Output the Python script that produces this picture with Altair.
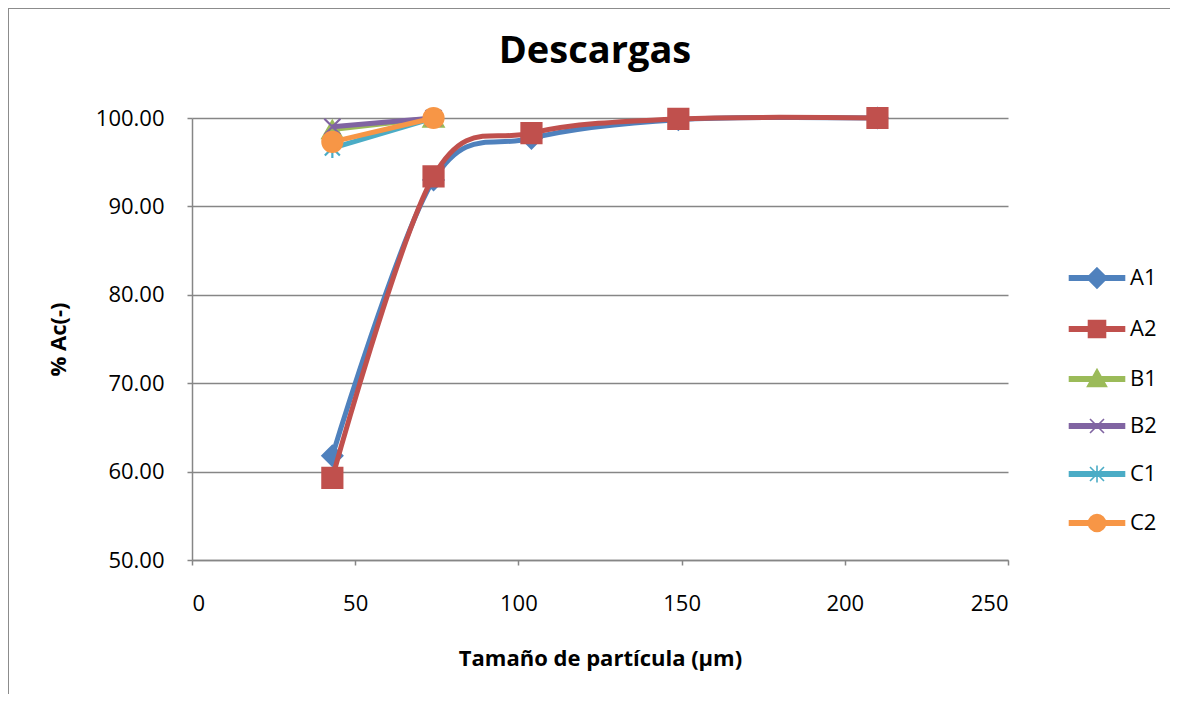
import altair as alt
import pandas as pd

# ---------------- data ----------------
series = ["A1", "A2", "B1", "B2", "C1", "C2"]
x_A = [43, 74, 104, 149, 210]
a1 = [61.8, 93.0, 97.7, 99.8, 100.0]
a2 = [59.3, 93.4, 98.3, 99.9, 100.0]
x_BC = [43, 74]
b1 = [98.7, 100.0]
b2 = [99.0, 100.0]
c1 = [96.6, 100.0]
c2 = [97.3, 100.0]
x_ticks = [0, 50, 100, 150, 200, 250]
y_ticks = [50, 60, 70, 80, 90, 100]

# ---------------- styles ----------------
colors = ["#4F81BD", "#C0504D", "#9BBB59", "#8064A2", "#4BACC6", "#F79646"]
X_PATH = "M-0.8,-0.8L0.8,0.8M-0.8,0.8L0.8,-0.8"
STAR_PATH = "M-0.75,-0.75L0.75,0.75M-0.75,0.75L0.75,-0.75M0,-1V1"
markers = ["diamond", "square", "triangle-up", X_PATH, STAR_PATH, "circle"]
LINE_SEG = "M-2.75,-0.22H2.75V0.22H-2.75Z"
legend_shapes = [
    LINE_SEG + "M0,-1L1,0L0,1L-1,0Z",
    LINE_SEG + "M-0.85,-0.85H0.85V0.85H-0.85Z",
    LINE_SEG + "M0,-0.95L0.95,0.75H-0.95Z",
    LINE_SEG + "M-0.7,-0.7L0.7,0.7M-0.7,0.7L0.7,-0.7",
    LINE_SEG + "M-0.7,-0.7L0.7,0.7M-0.7,0.7L0.7,-0.7M0,-0.85V0.85",
    LINE_SEG + "M-0.85,0A0.85,0.85,0,1,1,0.85,0A0.85,0.85,0,1,1,-0.85,0Z",
]

values = {"A1": (x_A, a1), "A2": (x_A, a2), "B1": (x_BC, b1),
          "B2": (x_BC, b2), "C1": (x_BC, c1), "C2": (x_BC, c2)}
rows = []
for s in series:
    xs, ys = values[s]
    for xv, yv in zip(xs, ys):
        rows.append({"Serie": s, "x": xv, "y": yv})
df = pd.DataFrame(rows)

FONT = "Open Sans"
GRAY = "#868686"

x_enc = alt.X(
    "x:Q",
    scale=alt.Scale(domain=[0, 250], nice=False, zero=False),
    axis=alt.Axis(
        values=x_ticks, title="Tamaño de partícula (μm)", grid=False,
        labelFontSize=22, labelBaseline="middle", labelPadding=38,
        titleFontSize=22, titleFontWeight="bold", titleX=408, titleY=98,
        titleBaseline="middle", titleAlign="center",
    ),
)
y_enc = alt.Y(
    "y:Q",
    scale=alt.Scale(domain=[50, 100], nice=False, zero=False),
    axis=alt.Axis(
        values=y_ticks, format=".2f", title="% Ac(-)", grid=True,
        labelFontSize=22, labelPadding=23,
        titleFontSize=22, titleFontWeight="bold", titleX=-134, titleY=221,
        titleBaseline="middle", titleAlign="center",
    ),
)

layers = []
for s, col, mk in zip(series, colors, markers):
    sub = alt.Chart(df).transform_filter(alt.datum.Serie == s)
    line = sub.mark_line(interpolate="cardinal", color=col, strokeWidth=5).encode(x=x_enc, y=y_enc)
    pts = sub.mark_point(filled=True, fill=col, stroke=col, strokeWidth=2.2, opacity=1,
                         shape=mk, size=400).encode(x=x_enc, y=y_enc)
    layers += [line, pts]

# legend-only layer (its marks fall outside the clipped plot area)
leg = alt.Chart(pd.DataFrame({"Serie": series})).mark_point(
    filled=True, clip=True, size=400, strokeWidth=1.6, opacity=1
).encode(
    y=alt.datum(0),
    color=alt.Color("Serie:N", title=None, scale=alt.Scale(domain=series, range=colors)),
    stroke=alt.Stroke("Serie:N", title=None, scale=alt.Scale(domain=series, range=colors)),
    shape=alt.Shape("Serie:N", title=None, scale=alt.Scale(domain=series, range=legend_shapes)),
)
layers.append(leg)

# outer chart frame
one = pd.DataFrame({"k": [0]})
frame_left = alt.Chart(one).mark_rule(color="#8c8c8c", strokeWidth=2).encode(
    x=alt.value(-184), y=alt.value(-110), y2=alt.value(584))
frame_top = alt.Chart(one).mark_rule(color="#8c8c8c", strokeWidth=2).encode(
    x=alt.value(-184), x2=alt.value(978), y=alt.value(-110))
layers += [frame_left, frame_top]

chart = alt.layer(*layers).properties(
    width=816, height=442,
    title=alt.TitleParams("Descargas", fontSize=38, font=FONT, fontWeight="bold",
                          anchor="middle", baseline="alphabetic", offset=0, dy=94, dx=-5,
                          color="#000"),
    autosize=alt.AutoSizeParams(type="none"),
    padding={"left": 184, "top": 110, "right": 162, "bottom": 134},
).configure_view(stroke="transparent").configure_axis(
    labelFont=FONT, titleFont=FONT, labelColor="#000", titleColor="#000",
    domainColor=GRAY, domainWidth=1.5, tickColor=GRAY, tickWidth=1.5, tickSize=5,
    gridColor=GRAY, gridWidth=1.3,
).configure_legend(
    orient="none", legendX=894, legendY=149, padding=0, rowPadding=25,
    labelFont=FONT, labelFontSize=22, labelColor="#000", labelOffset=22,
    symbolSize=400, symbolStrokeWidth=1.6,
)

chart.save("out.html", embed_options={"renderer": "svg", "actions": False})
